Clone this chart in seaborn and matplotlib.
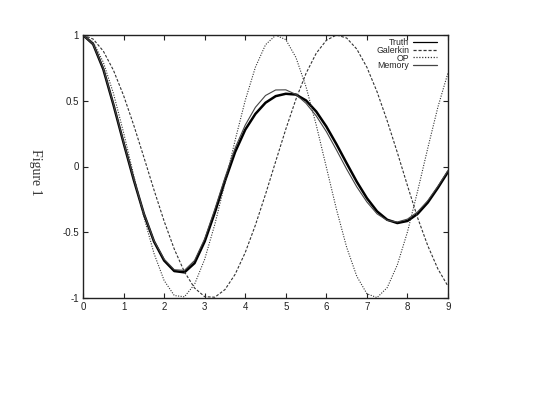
import pandas as pd
import matplotlib
matplotlib.use("Agg")
import matplotlib.pyplot as plt
import seaborn as sns

# valores (paso 0.25)
t = [0.0, 0.25, 0.5, 0.75, 1.0, 1.25, 1.5, 1.75, 2.0, 2.25, 2.5, 2.75,
     3.0, 3.25, 3.5, 3.75, 4.0, 4.25, 4.5, 4.75, 5.0, 5.25, 5.5, 5.75,
     6.0, 6.25, 6.5, 6.75, 7.0, 7.25, 7.5, 7.75, 8.0, 8.25, 8.5, 8.75, 9.0]

truth = [1.000, 0.930, 0.740, 0.470, 0.180, -0.100, -0.360, -0.570, -0.715,
         -0.795, -0.805, -0.735, -0.570, -0.350, -0.110, 0.110, 0.280, 0.400,
         0.485, 0.535, 0.553, 0.547, 0.502, 0.418, 0.304, 0.169, 0.025,
         -0.116, -0.241, -0.341, -0.405, -0.430, -0.414, -0.360, -0.274,
         -0.162, -0.040]

galerkin = [1.000, 0.969, 0.878, 0.732, 0.540, 0.315, 0.071, -0.178, -0.416,
            -0.628, -0.801, -0.924, -0.990, -0.994, -0.936, -0.820, -0.654,
            -0.446, -0.211, 0.038, 0.284, 0.512, 0.709, 0.861, 0.960, 1.000,
            0.977, 0.893, 0.754, 0.568, 0.347, 0.106, -0.146, -0.390, -0.602,
            -0.779, -0.911]

op = [1.000, 0.947, 0.793, 0.556, 0.258, -0.067, -0.384, -0.661, -0.867,
      -0.981, -0.991, -0.896, -0.705, -0.440, -0.127, 0.199, 0.503, 0.755,
      0.926, 0.998, 0.965, 0.829, 0.605, 0.316, -0.006, -0.327, -0.614,
      -0.835, -0.968, -0.997, -0.921, -0.748, -0.497, -0.187, 0.139, 0.452,
      0.714]

memory = [1.000, 0.930, 0.745, 0.475, 0.185, -0.095, -0.355, -0.565, -0.705,
          -0.785, -0.790, -0.715, -0.550, -0.325, -0.085, 0.140, 0.315, 0.450,
          0.540, 0.582, 0.583, 0.548, 0.480, 0.385, 0.265, 0.125, -0.020,
          -0.155, -0.270, -0.360, -0.410, -0.422, -0.400, -0.345, -0.260,
          -0.150, -0.030]

xticks = [0, 1, 2, 3, 4, 5, 6, 7, 8, 9]
yticks = [-1, -0.5, 0, 0.5, 1]
yticklabels = ["-1", "-0.5", "0", "0.5", "1"]

sns.set_style("ticks")
plt.rcParams["font.family"] = ["Liberation Sans", "DejaVu Sans"]

fig = plt.figure(figsize=(5.44, 4.0), dpi=100)
ax = fig.add_axes([0.1526, 0.255, 0.671, 0.6575])

sns.lineplot(x=t, y=truth, ax=ax, color="black", lw=1.8, label="Truth")
sns.lineplot(x=t, y=galerkin, ax=ax, color="#333333", lw=0.8,
             label="Galerkin").lines[-1].set_dashes([2.5, 1.5])
sns.lineplot(x=t, y=op, ax=ax, color="#333333", lw=0.8,
             label="OP").lines[-1].set_dashes([1, 1.3])
sns.lineplot(x=t, y=memory, ax=ax, color="#444444", lw=0.8, label="Memory")

ax.set_xlim(0, 9)
ax.set_ylim(-1, 1)
ax.set_xticks(xticks)
ax.set_xticklabels([str(v) for v in xticks])
ax.set_yticks(yticks)
ax.set_yticklabels(yticklabels)
ax.tick_params(direction="in", top=True, right=True, length=3.5, width=0.8,
               labelsize=7, pad=3, colors="#222222")
for s in ax.spines.values():
    s.set_linewidth(1.0)
    s.set_color("#222222")

leg = ax.legend(loc="upper right", bbox_to_anchor=(0.97, 0.99), frameon=False,
                markerfirst=False, fontsize=6.3, handlelength=2.8,
                handletextpad=0.4, labelspacing=-0.12, borderaxespad=0,
                borderpad=0)
for line in leg.get_lines():
    line.set_linewidth(0.9)

fig.text(0.066, 0.57, "Figure 1", rotation=-90, ha="center", va="center",
         fontsize=10, family=["Liberation Serif", "DejaVu Serif"], color="#333333")

plt.savefig("out.png", dpi=100)
plt.close()
